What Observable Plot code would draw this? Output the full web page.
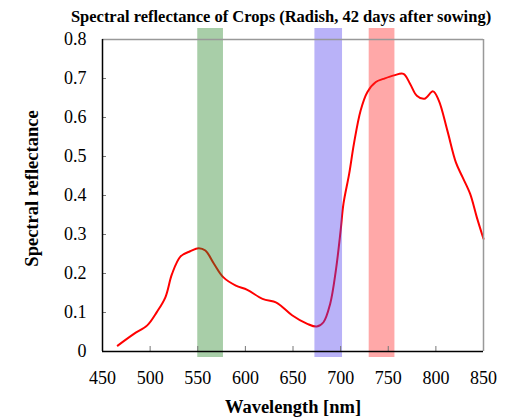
<!DOCTYPE html>
<html>
<head>
<meta charset="utf-8">
<script src="https://cdn.jsdelivr.net/npm/d3@7"></script>
<script src="https://cdn.jsdelivr.net/npm/@observablehq/plot@0.6"></script>
<style>
  html, body { margin: 0; padding: 0; background: #fff; }
  #chart svg { display: block; }
  #chart svg text { font-family: "Liberation Serif", "Times New Roman", serif !important; font-variant: normal !important; }
</style>
</head>
<body>
<div id="chart"></div>
<script>
const titleText = "Spectral reflectance of Crops (Radish, 42 days after sowing)";
const xLabel = "Wavelength [nm]";
const yLabel = "Spectral reflectance";

const wavelength = [466, 483, 497, 507, 516, 523, 532, 542, 551, 558, 567, 577, 590, 602, 618, 632, 637, 649, 665, 675, 682, 689, 695, 700, 703, 709, 714, 721, 728, 737, 745, 756, 766, 773, 780, 788, 797, 803, 812, 821, 828, 836, 843, 850];
const reflectance = [0.015, 0.045, 0.067, 0.101, 0.139, 0.199, 0.244, 0.257, 0.265, 0.259, 0.225, 0.19, 0.169, 0.158, 0.135, 0.126, 0.118, 0.093, 0.071, 0.064, 0.075, 0.122, 0.208, 0.31, 0.379, 0.456, 0.533, 0.618, 0.665, 0.691, 0.699, 0.708, 0.712, 0.686, 0.656, 0.648, 0.667, 0.644, 0.567, 0.485, 0.447, 0.404, 0.344, 0.289];

const bandNames = ["Green", "Red", "NIR"];
const bandStart = [550, 673, 730];
const bandEnd = [577, 702, 757];
const bandColors = ["rgb(38,132,38)", "rgb(80,62,237)", "rgb(255,37,37)"];

const xTicks = [450, 500, 550, 600, 650, 700, 750, 800, 850];
const yTicks = [0, 0.1, 0.2, 0.3, 0.4, 0.5, 0.6, 0.7, 0.8];
const yTickLabels = ["0", "0.1", "0.2", "0.3", "0.4", "0.5", "0.6", "0.7", "0.8"];

const curve = wavelength.map((w, i) => ({w, r: reflectance[i]}));
const bands = bandNames.map((n, i) => ({n, x1: bandStart[i], x2: bandEnd[i], c: bandColors[i]}));

const serif = "Liberation Serif";

const chart = Plot.plot({
  width: 515,
  height: 417,
  marginLeft: 102,
  marginRight: 32,
  marginTop: 39,
  marginBottom: 66,
  style: {fontFamily: serif, fontSize: "18px", background: "#fff", overflow: "visible"},
  x: {domain: [450, 850]},
  y: {domain: [0, 0.8]},
  marks: [
    Plot.line(curve, {x: "w", y: "r", stroke: "#ff0000", strokeWidth: 2, curve: "catmull-rom"}),
    Plot.rect(bands, {x1: "x1", x2: "x2", fill: "c", fillOpacity: 0.4, insetTop: -11, insetBottom: -6}),
    Plot.tickX(xTicks, {x: d => d, stroke: "#777", insetTop: 307}),
    Plot.tickY(yTicks, {y: d => d, stroke: "#777", insetRight: 377}),
    Plot.ruleY([0.8], {stroke: "#999", strokeWidth: 1.5}),
    Plot.ruleX([850], {stroke: "#999", strokeWidth: 1.5}),
    Plot.ruleX([450], {stroke: "#000", strokeWidth: 1.5}),
    Plot.ruleY([0], {stroke: "#000", strokeWidth: 1.5}),
    Plot.axisX({ticks: xTicks, tickSize: 0, tickPadding: 20, fontSize: 18, fontFamily: serif, label: null}),
    Plot.axisY({ticks: yTicks, tickSize: 0, tickPadding: 16, fontSize: 18, fontFamily: serif, label: null,
      tickFormat: d => yTickLabels[yTicks.indexOf(d)]}),
    Plot.text([titleText], {frameAnchor: "top", dx: -12, dy: -18, lineAnchor: "bottom", textAnchor: "middle",
      fontWeight: "bold", fontSize: 16.5, fontFamily: serif}),
    Plot.text([xLabel], {frameAnchor: "bottom", dx: 0, dy: 61, lineAnchor: "bottom", textAnchor: "middle",
      fontWeight: "bold", fontSize: 18.5, fontFamily: serif}),
    Plot.text([yLabel], {frameAnchor: "left", dx: -70, dy: -7, rotate: -90, lineAnchor: "middle", textAnchor: "middle",
      fontWeight: "bold", fontSize: 18.5, fontFamily: serif})
  ]
});
document.getElementById("chart").appendChild(chart);
</script>
</body>
</html>
